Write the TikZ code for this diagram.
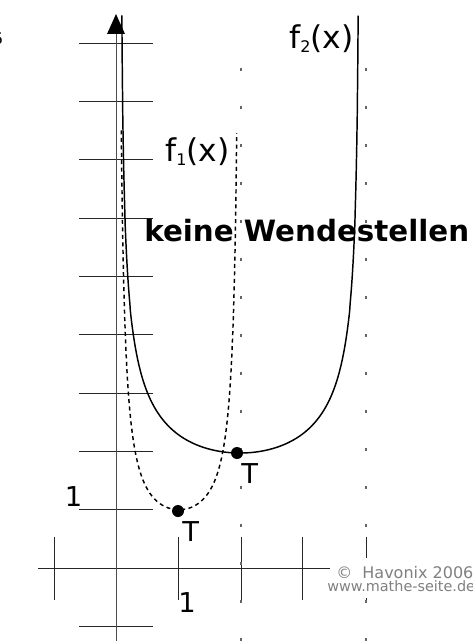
\documentclass[tikz,border=0pt]{standalone}
\usepackage{fontspec}
\setmainfont{DejaVu Sans}
\begin{document}
\begin{tikzpicture}[x=0.75pt,y=-0.75pt,
  gridline/.style={line width=0.75pt, black!85},
  axisline/.style={line width=0.75pt, black!70},
  fcurve/.style={line width=1.1pt, black},
  fdash/.style={line width=1.1pt, black, dash pattern=on 3pt off 2.6pt},
  asym/.style={line width=0.9pt, black!60, dash pattern=on 2pt off 26.5pt},
  lab/.style={inner sep=0pt, anchor=base west, font=\fontsize{23.5}{25}\selectfont},
  num/.style={inner sep=0pt, anchor=base, font=\fontsize{20.5}{22}\selectfont},
  tlab/.style={inner sep=0pt, anchor=base west, font=\fontsize{20.5}{22}\selectfont},
  dotnode/.style={circle, fill=black, inner sep=0pt, minimum size=9pt},
  note/.style={inner sep=0pt, anchor=base west, text=black!50}
]
\useasboundingbox (0,0) rectangle (472,641);

% horizontal grid marks
\foreach \k in {-1,1,2,3,4,5,6,7,8,9}
  \draw[gridline] (79,{568-58.3*\k}) -- (153,{568-58.3*\k});

% x-axis
\coordinate (xl) at (38,568);
\coordinate (xr) at (472,568);
\draw[gridline] (xl) -- (xr);

% ticks on x-axis
\foreach \x in {54,178,241,302,366}
  \draw[gridline] (\x,537) -- (\x,600);

% asymptotes (sparse dots)
\foreach \x in {241,366}
  \draw[asym] (\x,68) -- (\x,641);

% y-axis with arrow
\coordinate (yb) at (116,641);
\coordinate (yt) at (116,33);
\draw[axisline] (yb) -- (yt);
\fill (107,34) -- (125,34) -- (116,14) -- cycle;

% f2 (solid)
\draw[fcurve] plot[domain=-88.877:88.877, samples=500, variable=\t]
  ({240+1.3296*\t},{568-115/(cos(\t)^0.4)});

% f1 (dashed)
\draw[fdash] plot[domain=0.069:1.931, samples=400, variable=\u]
  ({117+62*\u},{568-58.3/(\u*(2-\u))});

% extreme points
\node[dotnode] (T1) at (178,511) {};
\node[dotnode] (T2) at (237,453) {};

% labels
\node[lab] (f2lab) at (289,49) {f\raisebox{-2.5pt}{\fontsize{12}{12}\selectfont 2}(x)};
\node[lab] (f1lab) at (165,162) {f\raisebox{-2.5pt}{\fontsize{12}{12}\selectfont 1}(x)};
\node[inner sep=0pt, anchor=base west, font=\bfseries\fontsize{22}{24}\selectfont] (kw) at (144,241.7) {keine Wendestellen};
\node[tlab] (T1lab) at (182,541) {T};
\node[tlab] (T2lab) at (241,483) {T};
\node[num] (one1) at (73.5,506) {1};
\node[num] (one2) at (187,612) {1};

% copyright
\fill[white] (330,558) rectangle (472,598);
\node[note, font=\fontsize{12}{13}\selectfont] (cr) at (336,578) {©~~Havonix 2006};
\node[note, font=\fontsize{10.8}{11}\selectfont] (url) at (327,591) {www.mathe-seite.de};

% fragment at the left edge
\node[inner sep=0pt, anchor=base east, font=\fontsize{12}{12}\selectfont] (frag) at (3.5,45) {5};
\end{tikzpicture}
\end{document}
